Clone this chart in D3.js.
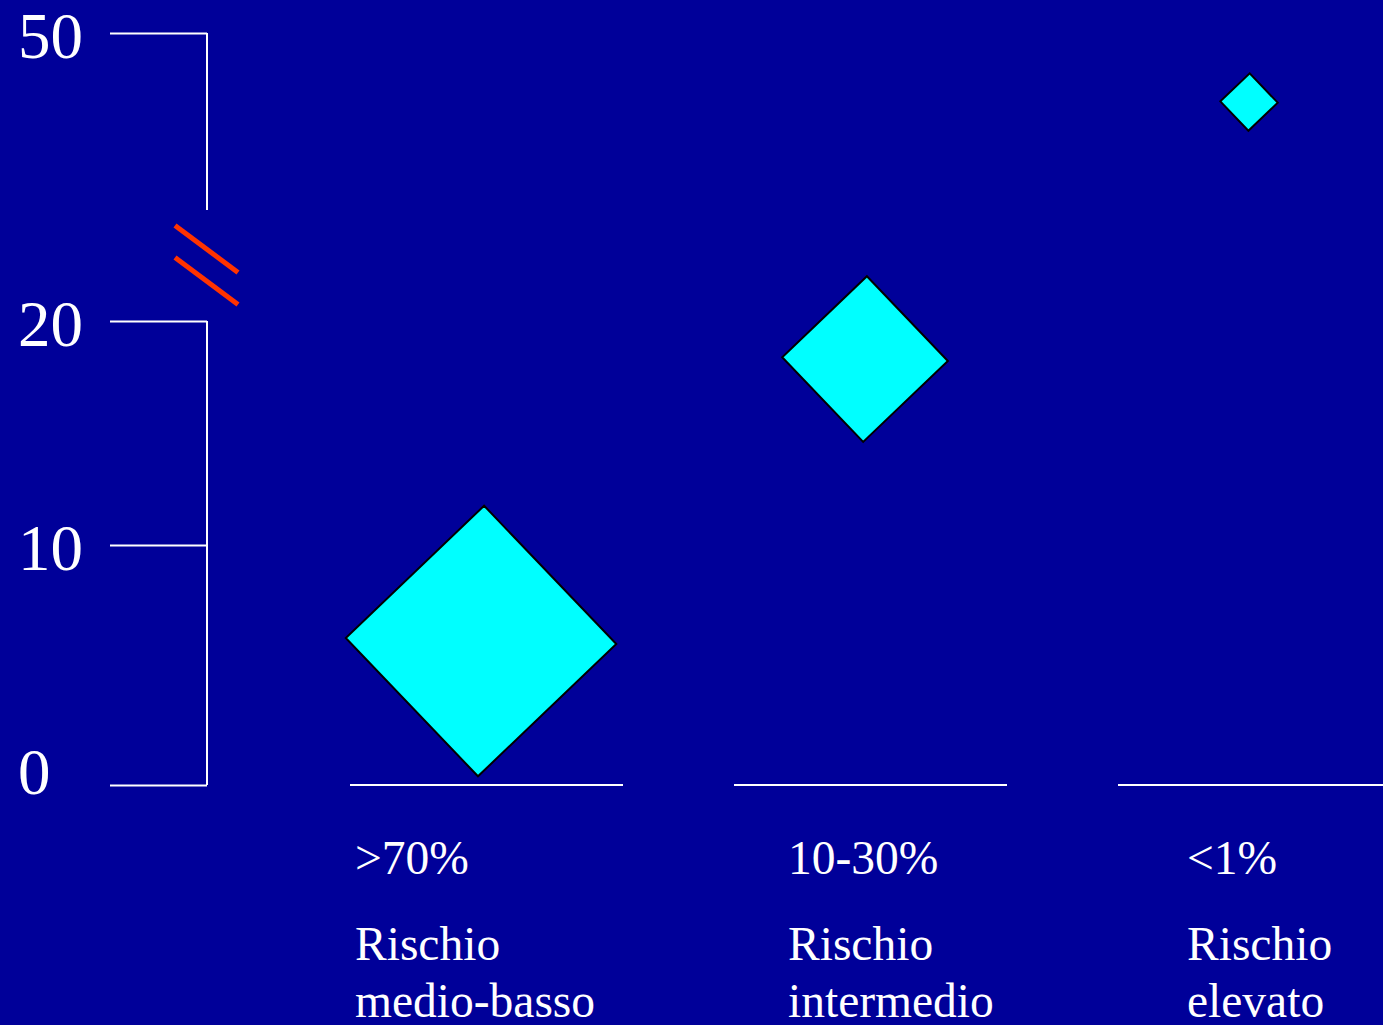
<!DOCTYPE html>
<html>
<head>
<meta charset="utf-8">
<script src="https://cdn.jsdelivr.net/npm/d3@7"></script>
<style>
  html, body { margin: 0; padding: 0; background: #000099; overflow: hidden; }
  svg { display: block; }
</style>
</head>
<body>
<svg id="chart" width="1383" height="1025"></svg>
<script>
// ---- data ----
const categories = ["c1", "c2", "c3"];
const percentLabels = [">70%", "10-30%", "<1%"];
const riskLine1 = ["Rischio", "Rischio", "Rischio"];
const riskLine2 = ["medio-basso", "intermedio", "elevato"];
const values = [6.0, 18.3, 42.2];        // y value of each diamond centre
const weights = [100, 37.5, 4.5];        // relative weight (diamond area)
const tickValues = [0, 10, 20, 50];
const breakLow = 20, breakHigh = 30;     // axis break between these values

// ---- layout ----
const W = 1383, H = 1025;
const svg = d3.select("#chart");
svg.append("rect").attr("width", W).attr("height", H).attr("fill", "#000099");

const axisX = 207;
const y = d3.scaleLinear()
  .domain([0, 10, breakLow, breakHigh, 50])
  .range([785, 545, 321, 210, 33]);

const x = d3.scaleBand()
  .domain(categories)
  .range([350, 1391])
  .paddingInner(111 / 384)
  .paddingOuter(0)
  .align(0);

const size = d3.scaleSqrt().domain([0, 100]).range([0, 135.3]);

const white = "#ffffff";
const serif = "'Liberation Serif', 'Times New Roman', serif";

// ---- y axis ----
const axisG = svg.append("g").attr("transform", `translate(${axisX},0)`);
const axis = d3.axisLeft(y).tickValues(tickValues).tickSize(97).tickPadding(0)
  .tickFormat(d3.format("d"));
axisG.call(axis);
axisG.select(".domain").remove();
axisG.selectAll(".tick line").attr("stroke", white).attr("stroke-width", 2);
axisG.selectAll(".tick text")
  .attr("fill", white)
  .attr("font-family", serif)
  .attr("font-size", 65)
  .attr("text-anchor", "start")
  .attr("x", -189)
  .attr("dy", d => d === 0 ? 8 : 24);

// broken axis line
axisG.append("line").attr("x1", 0).attr("x2", 0)
  .attr("y1", y(0)).attr("y2", y(breakLow))
  .attr("stroke", white).attr("stroke-width", 2);
axisG.append("line").attr("x1", 0).attr("x2", 0)
  .attr("y1", y(breakHigh)).attr("y2", y(50))
  .attr("stroke", white).attr("stroke-width", 2);

// break marks
const gapMid = (y(breakLow) + y(breakHigh)) / 2;
[-16.5, 15.5].forEach(off => {
  axisG.append("line")
    .attr("x1", -32).attr("y1", gapMid + off - 23.5)
    .attr("x2", 31).attr("y2", gapMid + off + 23.5)
    .attr("stroke", "#ff3300").attr("stroke-width", 5);
});

// ---- baselines per category ----
svg.append("g").selectAll("line").data(categories).join("line")
  .attr("x1", d => x(d)).attr("x2", d => x(d) + x.bandwidth())
  .attr("y1", y(0)).attr("y2", y(0))
  .attr("stroke", white).attr("stroke-width", 2);

// ---- diamonds ----
const pts = categories.map((c, i) => ({ c, v: values[i], w: weights[i] }));
svg.append("g").selectAll("path").data(pts).join("path")
  .attr("transform", d => `translate(${x(d.c) + x.bandwidth() * 0.48},${y(d.v)}) rotate(1.3)`)
  .attr("d", d => {
    const r = size(d.w);
    return `M0,${-r}L${r},0L0,${r}L${-r},0Z`;
  })
  .attr("fill", "#00ffff")
  .attr("stroke", "#000000")
  .attr("stroke-width", 2)
  .attr("stroke-linejoin", "miter");

// ---- category labels ----
const labelX = [355, 788, 1187];
const labG = svg.append("g")
  .attr("fill", white)
  .attr("font-family", serif)
  .attr("font-size", 47.5);
categories.forEach((c, i) => {
  labG.append("text").attr("x", labelX[i]).attr("y", y(0) + 89).text(percentLabels[i]);
  labG.append("text").attr("x", labelX[i]).attr("y", y(0) + 174.5).text(riskLine1[i]);
  labG.append("text").attr("x", labelX[i]).attr("y", y(0) + 231.5).text(riskLine2[i]);
});
</script>
</body>
</html>
